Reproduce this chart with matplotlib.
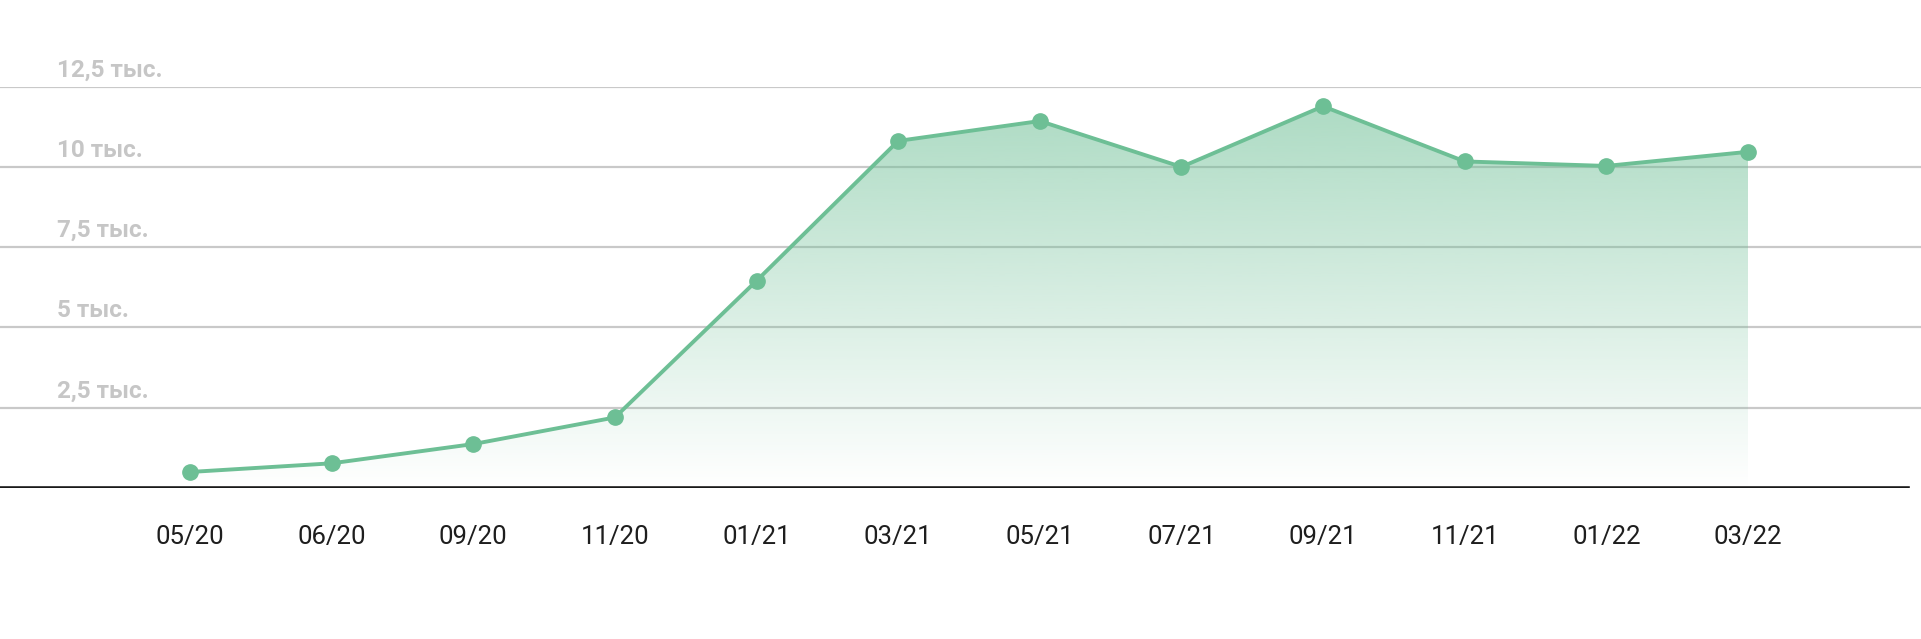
import matplotlib
matplotlib.use("Agg")
import matplotlib.pyplot as plt
import numpy as np

# data
months = ["05/20", "06/20", "09/20", "11/20", "01/21", "03/21",
          "05/21", "07/21", "09/21", "11/21", "01/22", "03/22"]
values = [490, 760, 1360, 2190, 6450, 10810, 11430, 10000, 11890, 10170, 10030, 10470]
grid_values = [2500, 5000, 7500, 10000, 12500]
grid_labels = ["2,5 тыс.", "5 тыс.", "7,5 тыс.", "10 тыс.", "12,5 тыс."]

green = "#6dbf95"

W, H = 1921, 639
fig = plt.figure(figsize=(W / 100, H / 100), dpi=100)

# axes: first category at x=190px, last at 1748px; value 0 at y=487.7px, 12.5k at 86.7px
x0, x1 = 190.0, 1748.0
step = (x1 - x0) / (len(values) - 1)
x_left = -x0 / step
x_right = (W - x0) / step
bottom = (H - 487.7) / H
height = (487.7 - 86.7) / H
ax = fig.add_axes([0, bottom, 1, height])
ax.set_xlim(x_left, x_right)
ax.set_ylim(0, 12500)
ax.patch.set_alpha(0)
for s in ax.spines.values():
    s.set_visible(False)

x = np.arange(len(values))

# grid lines
for v in grid_values:
    ax.axhline(v, color="#c9c9c9", lw=1.6, zorder=1)

# gradient fill under the line
poly = ax.fill_between(x, values, 0, facecolor="none", edgecolor="none")
rgb = matplotlib.colors.to_rgb(green)
grad = np.zeros((256, 1, 4))
grad[:, 0, :3] = rgb
grad[:, 0, 3] = np.linspace(0.56, 0.0, 256)
im = ax.imshow(grad, extent=[0, len(values) - 1, 0, max(values)],
               aspect="auto", origin="upper", zorder=2, interpolation="bilinear")
im.set_clip_path(poly.get_paths()[0], transform=ax.transData)
ax.set_xlim(x_left, x_right)
ax.set_ylim(0, 12500)

# line with markers
ax.plot(x, values, color=green, lw=2.8, marker="o", markersize=11,
        zorder=3, clip_on=False)

# baseline
ax.axhline(0, xmin=0, xmax=1908 / W, color="#1a1a1a", lw=2.6, zorder=4)

# y labels above grid lines
for v, lab in zip(grid_values, grid_labels):
    ax.annotate(lab, xy=(57 / W, v), xycoords=("axes fraction", "data"),
                xytext=(0, 7.2), textcoords="offset points",
                ha="left", va="baseline", fontsize=17.5, color="#c6c6c6",
                fontweight="bold", family=["Roboto", "DejaVu Sans"])

# x labels
ax.set_yticks([])
ax.set_xticks(x)
ax.set_xticklabels(months, fontsize=18.5, color="#1e1e1e",
                   family=["Roboto", "DejaVu Sans"])
ax.tick_params(axis="x", length=0, pad=26.5)

fig.savefig("out.png", dpi=100, facecolor="white")
